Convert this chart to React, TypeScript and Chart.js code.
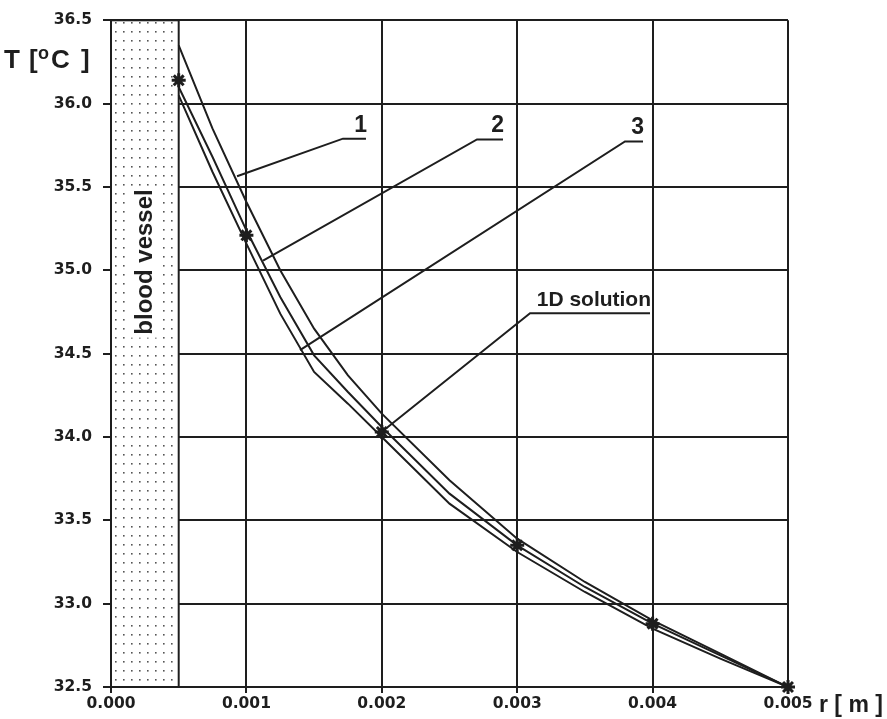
import React, { useEffect, useRef } from "react";
import { Chart, registerables } from "chart.js";

Chart.register(...registerables);

// ---- data ----
const radius = [0.0005, 0.00075, 0.001, 0.00125, 0.0015, 0.00175, 0.002, 0.0025, 0.003, 0.0035, 0.004, 0.0045, 0.005];
const curve1 = [36.35, 35.85, 35.41, 35.0, 34.65, 34.37, 34.14, 33.74, 33.39, 33.13, 32.9, 32.7, 32.5];
const curve2 = [36.1, 35.68, 35.24, 34.84, 34.49, 34.27, 34.06, 33.66, 33.35, 33.1, 32.88, 32.69, 32.5];
const curve3 = [36.05, 35.59, 35.16, 34.74, 34.39, 34.2, 34.0, 33.6, 33.31, 33.07, 32.85, 32.67, 32.5];
const solution1DRadius = [0.0005, 0.001, 0.002, 0.003, 0.004, 0.005];
const solution1DTemp = [36.14, 35.21, 34.03, 33.35, 32.88, 32.5];
const xTickValues = [0, 0.001, 0.002, 0.003, 0.004, 0.005];
const yTickValues = [32.5, 33.0, 33.5, 34.0, 34.5, 35.0, 35.5, 36.0, 36.5];
const vesselRadius = 0.0005;
const curveNames = ["1", "2", "3"];
const solutionName = "1D solution";
const xTitle = "r [ m ]";
const vesselText = "blood vessel";

const FONT = "'DejaVu Sans', 'Liberation Sans', Arial, sans-serif";
const HFONT = "'Liberation Sans', Arial, Helvetica, sans-serif";
const INK = "#1e1e1e";

const toXY = (xs: number[], ys: number[]) => xs.map((x, i) => ({ x, y: ys[i] }));

export default function App() {
  const ref = useRef<HTMLCanvasElement>(null);

  useEffect(() => {
    const canvas = ref.current!;
    const c2d = canvas.getContext("2d")!;
    const pc = document.createElement("canvas");
    pc.width = 8;
    pc.height = 9;
    const p = pc.getContext("2d")!;
    p.fillStyle = "#ffffff";
    p.fillRect(0, 0, 8, 9);
    p.fillStyle = "#555555";
    p.fillRect(3, 4, 1.6, 1.6);
    const pattern = c2d.createPattern(pc, "repeat")!;

    // callout layout (data coordinates): underline start/end r, underline T, target r/T
    const callouts = [
      { text: curveNames[0], u1: 0.001713, u2: 0.001883, uT: 35.79, tR: 0.000931, tT: 35.564 },
      { text: curveNames[1], u1: 0.002703, u2: 0.002895, uT: 35.785, tR: 0.001123, tT: 35.058 },
      { text: curveNames[2], u1: 0.003796, u2: 0.003929, uT: 35.773, tR: 0.001396, tT: 34.521 },
      { text: solutionName, u1: 0.003095, u2: 0.003981, uT: 34.742, tR: 0.002031, tT: 34.051 },
    ];

    const overlay = {
      id: "overlay",
      beforeDatasetsDraw(chart: any) {
        const { ctx, chartArea, scales } = chart;
        const x = scales.x, y = scales.y;
        const x0 = x.getPixelForValue(0);
        const x1 = x.getPixelForValue(vesselRadius);
        const h = chartArea.bottom - chartArea.top;
        ctx.save();
        ctx.fillStyle = pattern;
        ctx.fillRect(x0, chartArea.top, x1 - x0, h);
        ctx.strokeStyle = INK;
        ctx.lineWidth = 2;
        ctx.strokeRect(x0, chartArea.top, x1 - x0, h);
        ctx.translate((x0 + x1) / 2, y.getPixelForValue(35.05));
        ctx.rotate(-Math.PI / 2);
        ctx.font = `bold 24px ${HFONT}`;
        const w = ctx.measureText(vesselText).width;
        ctx.fillStyle = "#ffffff";
        ctx.fillRect(-w / 2 - 3, -14, w + 6, 28);
        ctx.fillStyle = INK;
        ctx.textAlign = "center";
        ctx.textBaseline = "middle";
        ctx.fillText(vesselText, 0, 1);
        ctx.restore();
      },
      afterDatasetsDraw(chart: any) {
        const { ctx, scales } = chart;
        const x = scales.x, y = scales.y;
        ctx.save();
        ctx.strokeStyle = INK;
        ctx.fillStyle = INK;
        ctx.lineWidth = 2;
        for (const c of callouts) {
          const ux1 = x.getPixelForValue(c.u1);
          const ux2 = x.getPixelForValue(c.u2);
          const uy = y.getPixelForValue(c.uT);
          ctx.beginPath();
          ctx.moveTo(x.getPixelForValue(c.tR), y.getPixelForValue(c.tT));
          ctx.lineTo(ux1, uy);
          ctx.lineTo(ux2, uy);
          ctx.stroke();
          ctx.font = c.text.length > 1 ? `bold 21px ${HFONT}` : `bold 23px ${HFONT}`;
          ctx.textAlign = "right";
          ctx.textBaseline = "alphabetic";
          ctx.fillText(c.text, ux2 + 1, uy - 7);
        }
        // y title T [°C]
        ctx.textAlign = "left";
        ctx.textBaseline = "alphabetic";
        const by = 68;
        ctx.font = `bold 26px ${HFONT}`;
        ctx.fillText("T", 4, by);
        ctx.fillText("[", 29, by);
        ctx.fillText("C", 51, by);
        ctx.fillText("]", 81, by);
        ctx.font = `bold 18px ${HFONT}`;
        ctx.fillText("o", 38, by - 9);
        // x title
        ctx.font = `bold 23px ${HFONT}`;
        ctx.fillText(xTitle, 819, 712);
        ctx.restore();
      },
    };

    const tickFont = { family: FONT, size: 15.5, weight: "bold" as const };

    const chart = new Chart(canvas, {
      type: "scatter",
      data: {
        datasets: [
          ...[curve1, curve2, curve3].map((vals, i) => ({
            label: curveNames[i],
            data: toXY(radius, vals),
            showLine: true,
            borderColor: INK,
            borderWidth: 2,
            pointRadius: 0,
            fill: false,
            tension: 0,
          })),
          {
            label: solutionName,
            data: toXY(solution1DRadius, solution1DTemp),
            showLine: false,
            pointStyle: "star",
            pointRadius: 7,
            pointBorderWidth: 3,
            borderColor: INK,
            backgroundColor: INK,
            clip: false as any,
          },
        ],
      },
      options: {
        responsive: false,
        animation: false,
        layout: { padding: { top: 15, right: 99, left: 0, bottom: 0 } },
        plugins: { legend: { display: false }, tooltip: { enabled: false } },
        scales: {
          x: {
            type: "linear",
            min: 0,
            max: 0.005,
            afterBuildTicks: (s: any) => {
              s.ticks = xTickValues.map((v) => ({ value: v }));
            },
            afterFit: (s: any) => {
              s.height = 32;
            },
            ticks: {
              callback: (v: any) => Number(v).toFixed(3),
              font: tickFont,
              color: INK,
              padding: 2,
              maxRotation: 0,
              autoSkip: false,
            },
            grid: { color: INK, lineWidth: 2, tickLength: 6 },
            border: { display: true, color: INK, width: 2 },
          },
          y: {
            type: "linear",
            min: 32.5,
            max: 36.5,
            afterBuildTicks: (s: any) => {
              s.ticks = yTickValues.map((v) => ({ value: v }));
            },
            afterFit: (s: any) => {
              s.width = 111;
            },
            ticks: {
              callback: (v: any) => Number(v).toFixed(1),
              font: tickFont,
              color: INK,
              padding: 11,
              autoSkip: false,
            },
            grid: { color: INK, lineWidth: 2, tickLength: 8 },
            border: { display: true, color: INK, width: 2 },
          },
        },
      },
      plugins: [overlay],
    });
    return () => chart.destroy();
  }, []);

  return (
    <div style={{ position: "fixed", left: 0, top: 0, width: 887, height: 719, background: "#fff" }}>
      <canvas ref={ref} width={887} height={719} style={{ width: 887, height: 719, display: "block" }} />
    </div>
  );
}
